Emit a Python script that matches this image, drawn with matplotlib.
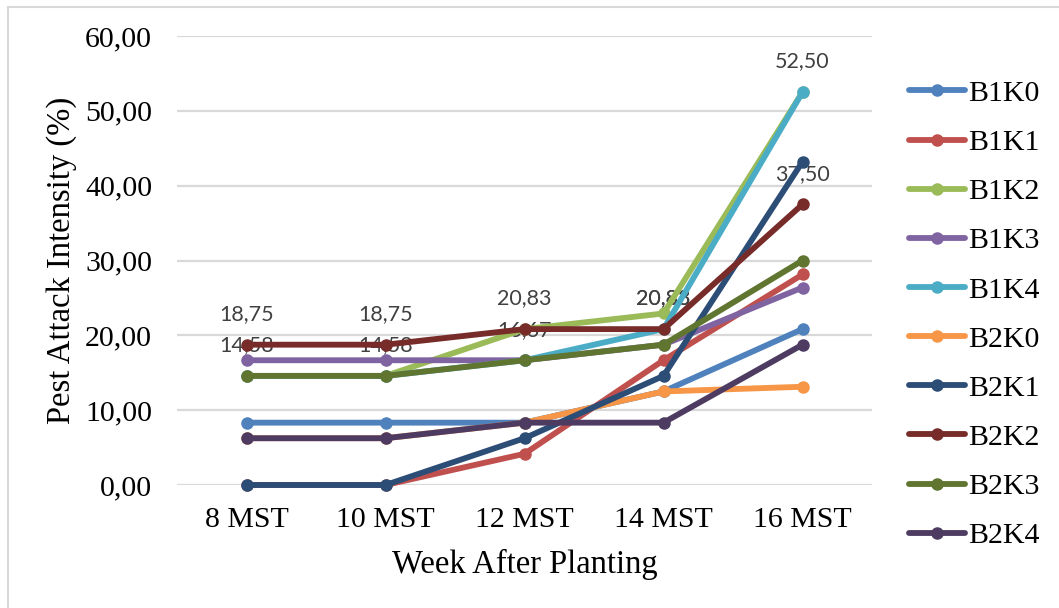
import matplotlib
matplotlib.use("Agg")
import matplotlib.pyplot as plt
from matplotlib.patches import Rectangle

# Weeks after planting (Minggu Setelah Tanam)
weeks = ["8 MST", "10 MST", "12 MST", "14 MST", "16 MST"]

# Pest attack intensity (%) per treatment
B1K0 = [8.33, 8.33, 8.33, 12.50, 20.83]
B1K1 = [0.00, 0.00, 4.17, 16.67, 28.13]
B1K2 = [14.58, 14.58, 20.83, 22.92, 52.50]
B1K3 = [16.67, 16.67, 16.67, 18.75, 26.39]
B1K4 = [14.58, 14.58, 16.67, 20.83, 52.50]
B2K0 = [6.25, 6.25, 8.33, 12.50, 13.13]
B2K1 = [0.00, 0.00, 6.25, 14.58, 43.20]
B2K2 = [18.75, 18.75, 20.83, 20.83, 37.50]
B2K3 = [14.58, 14.58, 16.67, 18.75, 30.00]
B2K4 = [6.25, 6.25, 8.33, 8.33, 18.75]

series_names = ["B1K0", "B1K1", "B1K2", "B1K3", "B1K4",
                "B2K0", "B2K1", "B2K2", "B2K3", "B2K4"]
series_values = [B1K0, B1K1, B1K2, B1K3, B1K4, B2K0, B2K1, B2K2, B2K3, B2K4]
series_colors = ["#4F81BD", "#C0504D", "#9BBB59", "#8064A2", "#4BACC6",
                 "#F79646", "#2C4D75", "#772C2A", "#5F7530", "#4D3B62"]
labelled_series = ["B1K4", "B2K2"]

yticks = [0, 10, 20, 30, 40, 50, 60]

serif = ["Liberation Serif", "DejaVu Serif"]
label_font = ["Lato", "DejaVu Sans"]
fs_tick = 21.5
fs_title = 23.5

fig = plt.figure(figsize=(10.59, 6.08), dpi=100)
ax = fig.add_axes([177 / 1059, 1 - 485 / 608, 695 / 1059, 449 / 608])

x = list(range(len(weeks)))
for i, (name, vals, col) in enumerate(zip(series_names, series_values, series_colors)):
    ax.plot(x, vals, color=col, lw=4.2, marker="o", ms=8,
            solid_capstyle="round", label=name, zorder=3 + i * 0.01,
            clip_on=False)
    if name in labelled_series:
        for xi, v in zip(x, vals):
            ax.annotate(f"{v:.2f}".replace(".", ","), (xi, v),
                        xytext=(0, 22), textcoords="offset points",
                        ha="center", va="center", fontsize=15.5,
                        color="#404040", family=label_font, zorder=2)

ax.set_xlim(-0.5, len(weeks) - 0.5)
ax.set_ylim(0, 60)
ax.set_yticks(yticks)
ax.set_yticklabels([f"{t:.2f}".replace(".", ",") for t in yticks],
                   family=serif, fontsize=fs_tick)
ax.set_xticks(x)
ax.set_xticklabels(weeks, family=serif, fontsize=fs_tick)
ax.tick_params(axis="both", length=0)
ax.tick_params(axis="y", pad=18)
ax.tick_params(axis="x", pad=16)
ax.grid(axis="y", color="#D9D9D9", lw=1.6, zorder=0)
ax.set_axisbelow(True)
for s in ax.spines.values():
    s.set_visible(False)

ax.set_ylabel("Pest Attack Intensity (%)", family=serif, fontsize=fs_title, labelpad=6)
ax.set_xlabel("Week After Planting", family=serif, fontsize=fs_title, labelpad=11)

leg = fig.legend(loc="upper left", bbox_to_anchor=(909 / 1059, 1 - 80 / 608),
                 frameon=False, prop={"family": serif, "size": fs_tick},
                 handlelength=1.87, handletextpad=0.1, labelspacing=0.745,
                 borderpad=0, borderaxespad=0)

# outer chart border
fig.patches.append(Rectangle((8 / 1059, -0.05), 1.2, 1 - 7 / 608 + 0.05,
                             transform=fig.transFigure, fill=False,
                             edgecolor="#D9D9D9", lw=1.5))

fig.savefig("out.png", dpi=100)
